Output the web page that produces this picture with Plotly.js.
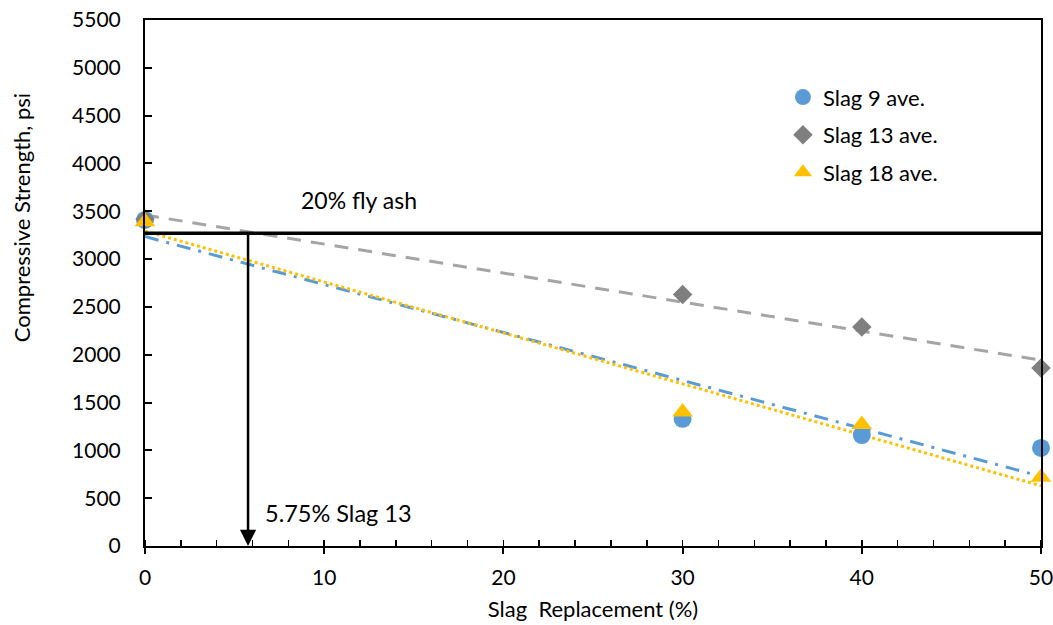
<!DOCTYPE html>
<html>
<head>
<meta charset="utf-8">
<script src="https://cdn.plot.ly/plotly-3.0.1.min.js"></script>
<style>html,body{margin:0;padding:0;background:#fff;}</style>
</head>
<body>
<div id="chart" style="width:1053px;height:625px;"></div>
<script>
const slagPct = [0, 30, 40, 50];
const slag9 = [3410, 1330, 1160, 1025];
const slag13 = [3420, 2630, 2290, 1860];
const slag18 = [3390, 1400, 1270, 720];
const flyAshRef = 3270;
const slag13Cross = 5.75;

function linfit(x, y) {
  const n = x.length;
  const mx = x.reduce((a, b) => a + b, 0) / n;
  const my = y.reduce((a, b) => a + b, 0) / n;
  let sxy = 0, sxx = 0;
  for (let i = 0; i < n; i++) { sxy += (x[i] - mx) * (y[i] - my); sxx += (x[i] - mx) ** 2; }
  const m = sxy / sxx, b = my - m * mx;
  const xs = [Math.min(...x), Math.max(...x)];
  return {x: xs, y: xs.map(v => m * v + b)};
}
const f9 = linfit(slagPct, slag9), f13 = linfit(slagPct, slag13), f18 = linfit(slagPct, slag18);

const font = 'Lato, "Open Sans", sans-serif';
const traces = [
  {x: f13.x, y: f13.y, mode: 'lines', line: {color: '#a5a5a5', width: 3, dash: '14px,10px'}, showlegend: false, hoverinfo: 'skip'},
  {x: f9.x, y: f9.y, mode: 'lines', line: {color: '#5b9bd5', width: 3, dash: '14px,8px,3px,8px'}, showlegend: false, hoverinfo: 'skip'},
  {x: f18.x, y: f18.y, mode: 'lines', line: {color: '#ffc000', width: 3, dash: 'dot'}, showlegend: false, hoverinfo: 'skip'},
  {x: slagPct, y: slag9, name: 'Slag 9 ave.', legendgroup: 'a', mode: 'markers', cliponaxis: false, marker: {symbol: 'circle', size: 18, color: '#5b9bd5'}},
  {x: slagPct, y: slag13, name: 'Slag 13 ave.', legendgroup: 'b', mode: 'markers', cliponaxis: false, marker: {symbol: 'diamond', size: 15, color: '#7f7f7f'}},
  {x: slagPct, y: slag18, name: 'Slag 18 ave.', legendgroup: 'c', mode: 'markers', cliponaxis: false, marker: {symbol: 'triangle-up', size: 18, color: '#ffc000'}}
];

const layout = {
  width: 1053, height: 625,
  margin: {l: 145, r: 12, t: 20, b: 79},
  paper_bgcolor: '#fff', plot_bgcolor: '#fff',
  font: {family: font, size: 21, color: '#000'},
  xaxis: {
    range: [0, 50], dtick: 10, showgrid: false, zeroline: false,
    showline: true, linecolor: '#000', linewidth: 2, mirror: true,
    ticks: 'outside', ticklen: 6, tickwidth: 2, tickcolor: '#000',
    minor: {dtick: 2, ticks: 'inside', ticklen: 6, tickwidth: 1.5, tickcolor: '#000'},
    tickfont: {size: 21}, ticklabelstandoff: 6, ticklabeloverflow: 'allow',
    title: {text: 'Slag  Replacement (%)', font: {size: 22}, standoff: 13}
  },
  yaxis: {
    range: [0, 5500], dtick: 500, showgrid: false, zeroline: false,
    showline: true, linecolor: '#000', linewidth: 2, mirror: true,
    ticks: 'inside', ticklen: 7, tickwidth: 2, tickcolor: '#000',
    tickfont: {size: 21}, ticklabelstandoff: 18
  },
  legend: {x: 0.712, y: 0.893, xanchor: 'left', yanchor: 'top', bgcolor: 'rgba(0,0,0,0)',
           font: {size: 22}, tracegroupgap: 6, itemsizing: 'trace'},
  shapes: [
    {type: 'line', xref: 'x', yref: 'y', x0: 0, x1: 50, y0: flyAshRef, y1: flyAshRef, line: {color: '#000', width: 3.5}}
  ],
  annotations: [
    {x: -0.137, y: 3430, xref: 'paper', yref: 'y', xanchor: 'center', yanchor: 'middle', text: 'Compressive Strength, psi', textangle: -90, showarrow: false, font: {size: 22}},
    {x: slag13Cross, y: 0, ax: slag13Cross, ay: flyAshRef, xref: 'x', yref: 'y', axref: 'x', ayref: 'y',
     showarrow: true, arrowhead: 2, arrowsize: 1.3, arrowwidth: 2.5, arrowcolor: '#000', text: ''},
    {x: 8.6, y: 3620, xref: 'x', yref: 'y', text: '20% fly ash', showarrow: false, xanchor: 'left', font: {size: 23}},
    {x: 6.6, y: 340, xref: 'x', yref: 'y', text: '5.75% Slag 13', showarrow: false, xanchor: 'left', font: {size: 23.5}}
  ]
};
Plotly.newPlot('chart', traces, layout, {displayModeBar: false, staticPlot: true});
</script>
</body>
</html>
